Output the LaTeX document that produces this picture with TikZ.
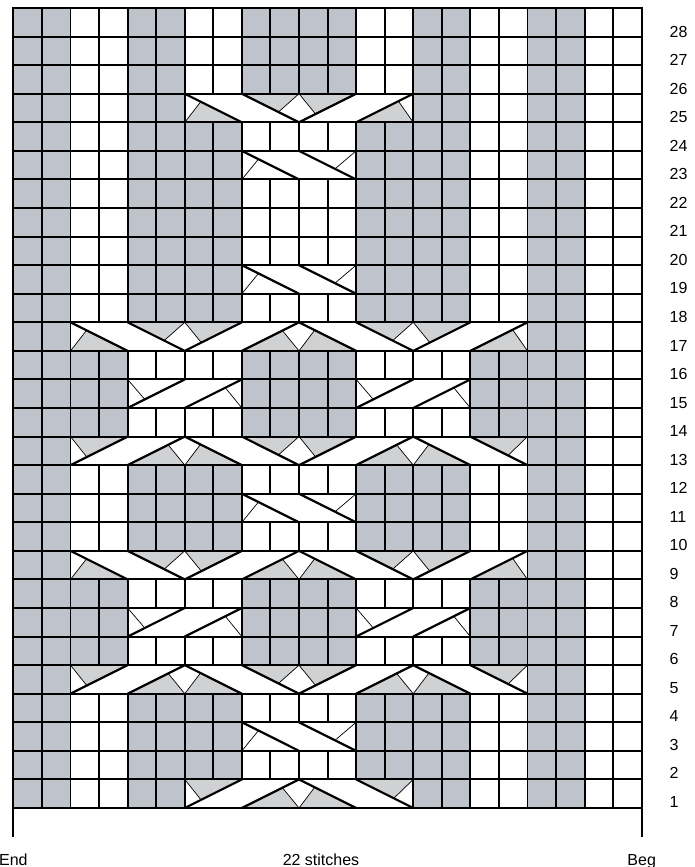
\documentclass[tikz,border=0pt]{standalone}
\usepackage{fontspec}
\setmainfont{Liberation Sans}
\definecolor{purl}{HTML}{BFC3CC}
\definecolor{shade}{HTML}{D0D1D3}
\tikzset{
  gridline/.style={draw=black,line width=1.95pt,line cap=rect},
  heavy/.style={draw=black,line width=2.2pt,line cap=round,line join=miter},
  fine/.style={draw=black,line width=0.7pt},
  shadetri/.style={fill=shade,draw=none},
  lab/.style={anchor=base west,inner sep=0pt,font=\fontsize{16pt}{16pt}\selectfont},
  foot/.style={anchor=base,inner sep=0pt,font=\fontsize{16pt}{16pt}\selectfont}
}
\newcommand{\greycells}[2]{\foreach \k in {#2} \fill[purl] (\k,#1) rectangle (\k+1,#1+1);}
\newcommand{\vrules}[2]{\foreach \k in {#2} \draw[gridline] (\k,#1) -- (\k,#1+1);}
\newcommand{\fanV}[2]{%
  \fill[shadetri] (#1-2,#2+1) -- (#1,#2+1) -- (#1-.72,#2+.36) -- cycle;
  \fill[shadetri] (#1,#2+1) -- (#1+2,#2+1) -- (#1+.58,#2+.29) -- cycle;
  \draw[fine] (#1-.72,#2+.36) -- (#1,#2+1) -- (#1+.58,#2+.29);
  \draw[heavy] (#1-2,#2+1) -- (#1,#2) -- (#1+2,#2+1);}
\newcommand{\fanL}[2]{%
  \fill[shadetri] (#1-2,#2) -- (#1,#2) -- (#1-.58,#2+.71) -- cycle;
  \fill[shadetri] (#1,#2) -- (#1+2,#2) -- (#1+.55,#2+.725) -- cycle;
  \draw[fine] (#1-.58,#2+.71) -- (#1,#2) -- (#1+.55,#2+.725);
  \draw[heavy] (#1-2,#2) -- (#1,#2+1) -- (#1+2,#2);}
\newcommand{\tailA}[2]{%
  \fill[shadetri] (#1,#2) -- (#1+2,#2) -- (#1+.56,#2+.72) -- cycle;
  \draw[fine] (#1,#2) -- (#1+.56,#2+.72);
  \draw[heavy] (#1,#2+1) -- (#1+2,#2);}
\newcommand{\tailB}[2]{%
  \fill[shadetri] (#1,#2) -- (#1-2,#2) -- (#1-.52,#2+.74) -- cycle;
  \draw[fine] (#1,#2) -- (#1-.52,#2+.74);
  \draw[heavy] (#1,#2+1) -- (#1-2,#2);}
\newcommand{\tailC}[2]{%
  \fill[shadetri] (#1,#2+1) -- (#1+2,#2+1) -- (#1+.57,#2+.285) -- cycle;
  \draw[fine] (#1,#2+1) -- (#1+.57,#2+.285);
  \draw[heavy] (#1,#2) -- (#1+2,#2+1);}
\newcommand{\tailD}[2]{%
  \fill[shadetri] (#1,#2+1) -- (#1-2,#2+1) -- (#1-.68,#2+.34) -- cycle;
  \draw[fine] (#1,#2+1) -- (#1-.68,#2+.34);
  \draw[heavy] (#1-2,#2+1) -- (#1,#2);}
\newcommand{\crossFall}[2]{%
  \draw[fine] (#1,#2) -- (#1+.58,#2+.71);
  \draw[fine] (#1+4,#2+1) -- (#1+3.26,#2+.37);
  \draw[heavy] (#1,#2+1) -- (#1+2,#2);
  \draw[heavy] (#1+2,#2+1) -- (#1+4,#2);}
\newcommand{\crossRise}[2]{%
  \draw[fine] (#1,#2+1) -- (#1+.6,#2+.3);
  \draw[fine] (#1+4,#2) -- (#1+3.42,#2+.71);
  \draw[heavy] (#1,#2) -- (#1+2,#2+1);
  \draw[heavy] (#1+2,#2) -- (#1+4,#2+1);}
\begin{document}
\begin{tikzpicture}[x=28.56pt,y=28.57pt]
\useasboundingbox (-13.4pt,-59pt) rectangle (680.6pt,808pt);
% ---- grey knit cells
\foreach \r in {25,26,27} {\greycells{\r}{0,1,4,5,8,9,10,11,14,15,18,19}}
\foreach \r in {0,24} {\greycells{\r}{0,1,4,5,14,15,18,19}}
\foreach \r in {1,2,3,9,10,11,17,18,19,20,21,22,23} {\greycells{\r}{0,1,4,5,6,7,12,13,14,15,18,19}}
\foreach \r in {5,6,7,13,14,15} {\greycells{\r}{0,1,2,3,8,9,10,11,16,17,18,19}}
\foreach \r in {4,8,12,16} {\greycells{\r}{0,1,18,19}}
% ---- cables
\foreach \r in {8,16} {\fanV{6}{\r}\fanL{10}{\r}\fanV{14}{\r}\tailA{2}{\r}\tailB{18}{\r}}
\foreach \r in {4,12} {\fanL{6}{\r}\fanV{10}{\r}\fanL{14}{\r}\tailC{2}{\r}\tailD{18}{\r}}
\fanV{10}{24}\tailA{6}{24}\tailB{14}{24}
\fanL{10}{0}\tailC{6}{0}\tailD{14}{0}
\foreach \r in {2,10,18,22} {\crossFall{8}{\r}}
\foreach \r in {6,14} {\crossRise{4}{\r}\crossRise{12}{\r}}
% ---- grid: horizontals
\foreach \r in {0,...,28} {\draw[gridline] (0,\r) -- (22,\r);}
% ---- grid: verticals
\foreach \r in {1,3,5,7,9,11,13,15,17,19,20,21,23,25,26,27} {\vrules{\r}{0,...,22}}
\foreach \r in {0,24} {\vrules{\r}{0,1,2,3,4,5,6,14,15,16,17,18,19,20,21,22}}
\foreach \r in {4,8,12,16} {\vrules{\r}{0,1,2,18,19,20,21,22}}
\foreach \r in {2,10,18,22} {\vrules{\r}{0,1,2,3,4,5,6,7,8,12,13,14,15,16,17,18,19,20,21,22}}
\foreach \r in {6,14} {\vrules{\r}{0,1,2,3,4,8,9,10,11,12,16,17,18,19,20,21,22}}
% ---- bottom ticks
\coordinate (bl) at (0,0);
\coordinate (br) at (22,0);
\coordinate (blt) at (0,-28.7pt);
\coordinate (brt) at (22,-28.7pt);
\draw[gridline,line cap=butt] (bl) -- (blt);
\draw[gridline,line cap=butt] (br) -- (brt);
% ---- labels
\foreach \r in {1,...,28} {
  \node[lab] (row\r) at (656.1pt,{(\r-1)*28.53pt+0.5pt}) {\r};
}
\node[foot] (endlab) at (0,-57pt) {End};
\node[foot] (countlab) at (307.6pt,-57pt) {22 stitches};
\node[foot] (beglab) at (22,-57pt) {Beg};
\end{tikzpicture}
\end{document}
